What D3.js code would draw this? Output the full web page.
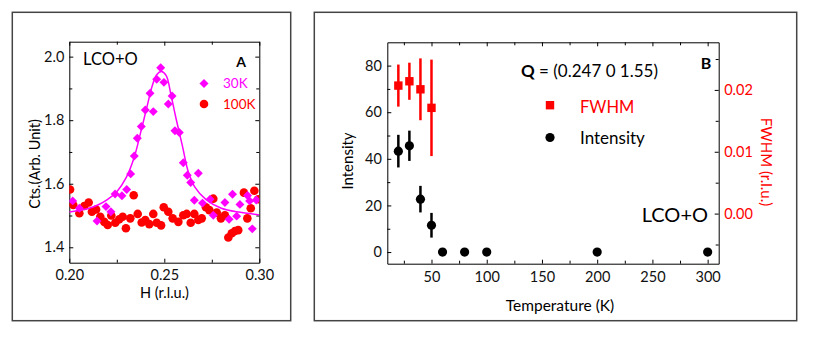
<!DOCTYPE html>
<html>
<head>
<meta charset="utf-8">
<script src="https://cdn.jsdelivr.net/npm/d3@7"></script>
<style>
  html, body { margin: 0; padding: 0; background: #fff; }
  svg { display: block; font-family: Lato, "Open Sans", sans-serif; }
  .axis path, .axis line { stroke: #000; stroke-width: 1; }
  .axis text { font-size: 14.5px; font-family: Lato, sans-serif; }
  .frame { fill: none; stroke: #444; stroke-width: 1.5; }
</style>
</head>
<body>
<div id="chart"></div>
<script>
// ---- panel A: H scans (Cts., arb. unit) ----
const scan30H = [0.2018, 0.2053, 0.2146, 0.2193, 0.2219, 0.2241, 0.2277, 0.2302, 0.2323,
  0.2342, 0.2358, 0.2379, 0.2400, 0.2425, 0.2442, 0.2460, 0.2481, 0.2498, 0.2521, 0.2541,
  0.2556, 0.2579, 0.2600, 0.2621, 0.2639, 0.2658, 0.2679, 0.2701, 0.2741, 0.2758, 0.2819,
  0.2841, 0.2859, 0.2881, 0.2898, 0.2938, 0.2949, 0.2963, 0.2984];
const scan30C = [1.546, 1.523, 1.483, 1.528, 1.512, 1.568, 1.562, 1.582, 1.631,
  1.687, 1.743, 1.780, 1.832, 1.885, 1.827, 1.929, 1.965, 1.919, 1.851, 1.876,
  1.767, 1.761, 1.666, 1.627, 1.604, 1.548, 1.633, 1.539, 1.551, 1.501, 1.541,
  1.488, 1.567, 1.498, 1.535, 1.563, 1.546, 1.458, 1.549];

const scan100H = [0.2004, 0.2021, 0.2053, 0.2079, 0.2102, 0.2119, 0.2141, 0.2163, 0.2184,
  0.2202, 0.2221, 0.2242, 0.2263, 0.2281, 0.2298, 0.2321, 0.2339, 0.2360, 0.2381, 0.2400,
  0.2421, 0.2442, 0.2460, 0.2483, 0.2497, 0.2521, 0.2544, 0.2574, 0.2600, 0.2618, 0.2639,
  0.2658, 0.2679, 0.2697, 0.2719, 0.2737, 0.2758, 0.2776, 0.2798, 0.2819, 0.2837, 0.2855,
  0.2872, 0.2889, 0.2919, 0.2937, 0.2955, 0.2974, 0.2995];
const scan100C = [1.582, 1.533, 1.507, 1.530, 1.541, 1.512, 1.519, 1.496, 1.480,
  1.470, 1.500, 1.477, 1.488, 1.496, 1.460, 1.491, 1.564, 1.505, 1.478, 1.486,
  1.473, 1.505, 1.477, 1.469, 1.526, 1.512, 1.491, 1.480, 1.501, 1.505, 1.477,
  1.505, 1.486, 1.491, 1.526, 1.517, 1.553, 1.509, 1.491, 1.501, 1.431, 1.444,
  1.451, 1.454, 1.572, 1.491, 1.523, 1.578, 1.551];

// fitted curve for 30K
const fitH = [0.200, 0.210, 0.215, 0.220, 0.225, 0.230, 0.234, 0.2375, 0.241, 0.2435, 0.246,
  0.2485, 0.251, 0.2535, 0.256, 0.2595, 0.2625, 0.266, 0.272, 0.280, 0.290, 0.300];
const fitC = [1.511, 1.522, 1.533, 1.550, 1.575, 1.620, 1.680, 1.760, 1.845, 1.905, 1.943,
  1.953, 1.940, 1.880, 1.810, 1.720, 1.640, 1.590, 1.550, 1.523, 1.510, 1.502];

// ---- panel B: temperature dependence ----
const tempK = [20, 30, 40, 50, 60, 80, 100, 200, 300];
const intensity = [43.3, 45.6, 22.7, 11.5, 0, 0, 0, 0, 0];
const intensityErr = [7.0, 6.5, 5.7, 5.3, 0, 0, 0, 0, 0];
const fwhmK = [20, 30, 40, 50];
const fwhm = [0.0207, 0.0214, 0.0201, 0.0171];
const fwhmErr = [0.0034, 0.0030, 0.0050, 0.0078];

const aTicksX = [0.20, 0.25, 0.30], aMinorX = [0.225, 0.275];
const aTicksY = [1.4, 1.6, 1.8, 2.0], aMinorY = [1.5, 1.7, 1.9];
const bTicksX = [50, 100, 150, 200, 250, 300], bMinorX = [25, 75, 125, 175, 225, 275];
const bTicksY = [0, 20, 40, 60, 80], bMinorY = [10, 30, 50, 70];
const bTicksY2 = [0, 0.01, 0.02], bMinorY2 = [-0.005, 0.005, 0.015, 0.025];

const W = 813, H = 339;
const MAG = "#ff00ff", RED = "#ff0000";

const svg = d3.select("#chart").append("svg")
  .attr("width", W).attr("height", H);

// outer frames
svg.append("rect").attr("class", "frame").attr("x", 12.3).attr("y", 12.3).attr("width", 278.4).attr("height", 308.4);
svg.append("rect").attr("class", "frame").attr("x", 314.3).attr("y", 12.3).attr("width", 482.4).attr("height", 308.4);

// helper: major + minor inward ticks on one side
function drawAxis(g, axisFn, scale, major, minor, fmt, pad, color) {
  g.append("g").attr("class", "axis")
    .call(axisFn(scale).tickValues(major).tickFormat(fmt).tickSizeInner(-4).tickSizeOuter(0).tickPadding(pad))
    .selectAll("text").style("fill", color || "#111");
  g.append("g").attr("class", "axis")
    .call(axisFn(scale).tickValues(minor).tickFormat("").tickSizeInner(-3).tickSizeOuter(0))
    .select(".domain").remove();
}

// ================= Panel A =================
const xA = d3.scaleLinear([0.2, 0.3], [69.3, 259.3]);
const yA = d3.scaleLinear([1.3515, 2.047], [262.7, 41.7]);
const gA = svg.append("g");

drawAxis(gA.append("g").attr("transform", `translate(0,${yA.range()[0]})`), d3.axisBottom, xA, aTicksX, aMinorX, d3.format(".2f"), 7);
drawAxis(gA.append("g").attr("transform", `translate(0,${yA.range()[1]})`), d3.axisTop, xA, aTicksX, aMinorX, "", 0);
drawAxis(gA.append("g").attr("transform", `translate(${xA.range()[0]},0)`), d3.axisLeft, yA, aTicksY, aMinorY, d3.format(".1f"), 5);
drawAxis(gA.append("g").attr("transform", `translate(${xA.range()[1]},0)`), d3.axisRight, yA, aTicksY, aMinorY, "", 0);

gA.append("clipPath").attr("id", "clipA").append("rect")
  .attr("x", 69.3).attr("y", 41.7).attr("width", 190).attr("height", 221);

const plotA = gA.append("g").attr("clip-path", "url(#clipA)");
const diamond = d3.symbol().type(d3.symbolSquare).size(40)();

plotA.selectAll(".p100").data(scan100H).join("circle")
  .attr("cx", d => xA(d)).attr("cy", (d, i) => yA(scan100C[i])).attr("r", 4.3).attr("fill", RED);

plotA.selectAll(".p30").data(scan30H).join("path")
  .attr("d", diamond)
  .attr("transform", (d, i) => `translate(${xA(d)},${yA(scan30C[i])}) rotate(45)`)
  .attr("fill", MAG);

plotA.append("path")
  .attr("d", d3.line().curve(d3.curveCatmullRom).x(d => xA(d)).y((d, i) => yA(fitC[i]))(fitH))
  .attr("fill", "none").attr("stroke", MAG).attr("stroke-width", 1.5);

gA.append("text").attr("x", 83).attr("y", 65).attr("font-size", 16.5).text("LCO+O");
gA.append("text").attr("x", 241).attr("y", 67).attr("font-size", 14).attr("font-weight", "bold")
  .attr("text-anchor", "middle").text("A");

// legend A
gA.append("path").attr("d", diamond).attr("transform", "translate(204,83.5) rotate(45)").attr("fill", MAG);
gA.append("text").attr("x", 223).attr("y", 88).attr("font-size", 13.5).attr("fill", MAG).text("30K");
gA.append("circle").attr("cx", 204).attr("cy", 104).attr("r", 4.3).attr("fill", RED);
gA.append("text").attr("x", 223).attr("y", 108.5).attr("font-size", 13.5).attr("fill", RED).text("100K");

gA.append("text").attr("transform", "translate(40,164) rotate(-90)")
  .attr("text-anchor", "middle").attr("font-size", 14.5).text("Cts.(Arb. Unit)");
gA.append("text").attr("x", 164.5).attr("y", 298).attr("text-anchor", "middle")
  .attr("font-size", 14.5).text("H (r.l.u.)");

// ================= Panel B =================
const xB = d3.scaleLinear([10, 310], [387.3, 718.7]);
const yB = d3.scaleLinear([-5, 90], [263.7, 42.3]);
const yB2 = d3.scaleLinear([-0.0081, 0.0277], [263.7, 42.3]);
const gB = svg.append("g");

drawAxis(gB.append("g").attr("transform", `translate(0,${yB.range()[0]})`), d3.axisBottom, xB, bTicksX, bMinorX, d3.format("d"), 8);
drawAxis(gB.append("g").attr("transform", `translate(0,${yB.range()[1]})`), d3.axisTop, xB, bTicksX, bMinorX, "", 0);
drawAxis(gB.append("g").attr("transform", `translate(${xB.range()[0]},0)`), d3.axisLeft, yB, bTicksY, bMinorY, d3.format("d"), 5.5);
drawAxis(gB.append("g").attr("transform", `translate(${xB.range()[1]},0)`), d3.axisRight, yB2, bTicksY2, bMinorY2, d3.format(".2f"), 5.5, RED);

// intensity error bars and points
gB.selectAll(".ie").data(tempK.filter((d, i) => intensityErr[i] > 0)).join("line")
  .attr("x1", d => xB(d)).attr("x2", d => xB(d))
  .attr("y1", (d, i) => yB(intensity[i] - intensityErr[i]))
  .attr("y2", (d, i) => yB(intensity[i] + intensityErr[i]))
  .attr("stroke", "#000").attr("stroke-width", 2.5);
gB.selectAll(".ip").data(tempK).join("circle")
  .attr("cx", d => xB(d)).attr("cy", (d, i) => yB(intensity[i])).attr("r", 4.6).attr("fill", "#000");

// fwhm error bars and points (right axis)
gB.selectAll(".fe").data(fwhmK).join("line")
  .attr("x1", d => xB(d)).attr("x2", d => xB(d))
  .attr("y1", (d, i) => yB2(fwhm[i] - fwhmErr[i]))
  .attr("y2", (d, i) => yB2(fwhm[i] + fwhmErr[i]))
  .attr("stroke", RED).attr("stroke-width", 2.5);
gB.selectAll(".fp").data(fwhmK).join("rect")
  .attr("x", d => xB(d) - 4.2).attr("y", (d, i) => yB2(fwhm[i]) - 4.2)
  .attr("width", 8.4).attr("height", 8.4).attr("fill", RED);

// annotations
const q = gB.append("text").attr("x", 521).attr("y", 77).attr("font-size", 17);
q.append("tspan").attr("font-weight", "bold").text("Q");
q.append("tspan").text(" = (0.247 0 1.55)");
gB.append("text").attr("x", 706).attr("y", 69).attr("text-anchor", "middle")
  .attr("font-size", 16).attr("font-weight", "bold").text("B");

gB.append("rect").attr("x", 545.8).attr("y", 101).attr("width", 8.4).attr("height", 8.4).attr("fill", RED);
gB.append("text").attr("x", 580).attr("y", 112.5).attr("font-size", 16.5).attr("fill", RED).text("FWHM");
gB.append("circle").attr("cx", 550).attr("cy", 137.5).attr("r", 4.6).attr("fill", "#000");
gB.append("text").attr("x", 580).attr("y", 143.5).attr("font-size", 17).text("Intensity");

gB.append("text").attr("x", 708).attr("y", 222).attr("text-anchor", "end")
  .attr("font-size", 20).text("LCO+O");

gB.append("text").attr("transform", "translate(353,161) rotate(-90)")
  .attr("text-anchor", "middle").attr("font-size", 15).text("Intensity");
gB.append("text").attr("x", 560).attr("y", 311).attr("text-anchor", "middle")
  .attr("font-size", 15.5).text("Temperature (K)");
gB.append("text").attr("transform", "translate(761,162) rotate(90)")
  .attr("text-anchor", "middle").attr("font-size", 15).attr("fill", RED).text("FWHM (r.l.u.)");
</script>
</body>
</html>
